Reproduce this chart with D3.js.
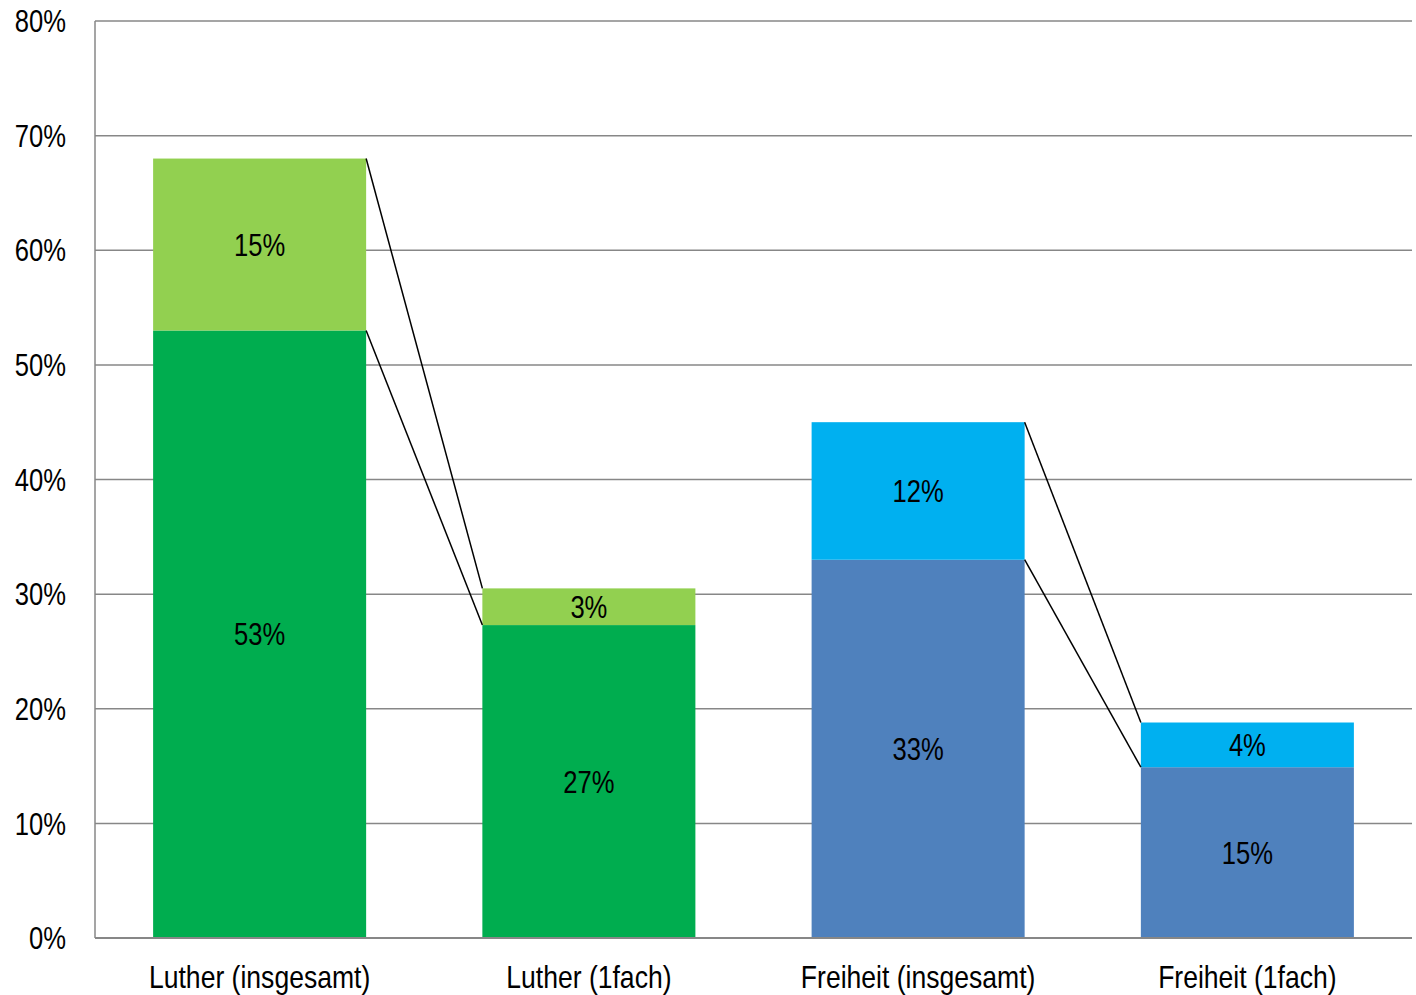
<!DOCTYPE html>
<html>
<head>
<meta charset="utf-8">
<script src="https://cdn.jsdelivr.net/npm/d3@7"></script>
<style>
  html, body { margin: 0; padding: 0; background: #fff; }
  svg text { font-family: "Liberation Sans", Arial, sans-serif; fill: #000; }
</style>
</head>
<body>
<svg id="chart" width="1416" height="995"></svg>
<script>
// categories and stacked values (percent)
var categories = ["Luther (insgesamt)", "Luther (1fach)", "Freiheit (insgesamt)", "Freiheit (1fach)"];
var baseValues = [53, 27.3, 33, 14.9];
var topValues = [15, 3.2, 12, 3.9];
var baseLabels = ["53%", "27%", "33%", "15%"];
var topLabels = ["15%", "3%", "12%", "4%"];
var baseColors = ["#00AD4F", "#00AD4F", "#4F81BD", "#4F81BD"];
var topColors = ["#92D050", "#92D050", "#00B0F0", "#00B0F0"];
var yTicks = [0, 10, 20, 30, 40, 50, 60, 70, 80];
// pairs of bars joined by connector lines
var connectors = [[0, 1], [2, 3]];

var svg = d3.select("#chart");
var mLeft = 95, mRight = 1412, mTop = 21, mBottom = 938;
var fontSize = 32;

var x = d3.scaleBand()
  .domain(categories)
  .range([mLeft, mRight])
  .paddingInner(0.353)
  .paddingOuter(0.1765);

var y = d3.scaleLinear().domain([0, 80]).range([mBottom, mTop]);

// condensed text (narrow font look)
function label(g, tx, ty, str, anchor, dy, narrow) {
  return g.append("text")
    .attr("transform", "translate(" + tx + "," + ty + ") scale(" + (narrow || 0.8) + ",1)")
    .attr("dy", dy || 0)
    .attr("text-anchor", anchor)
    .attr("font-size", fontSize)
    .text(str);
}

// gridlines
svg.append("g").selectAll("line")
  .data(yTicks.filter(function(d) { return d > 0; }))
  .enter().append("line")
    .attr("x1", mLeft).attr("x2", mRight)
    .attr("y1", function(d) { return y(d); })
    .attr("y2", function(d) { return y(d); })
    .attr("stroke", "#878787")
    .attr("stroke-width", 1.5);

// y tick labels
var yg = svg.append("g");
yTicks.forEach(function(d) {
  label(yg, 66, y(d), d + "%", "end", "0.35em", 0.8);
});

var rows = categories.map(function(c, i) {
  return {cat: c, base: baseValues[i], top: topValues[i], i: i};
});

// base segments
svg.append("g").selectAll("rect")
  .data(rows)
  .enter().append("rect")
    .attr("x", function(d) { return x(d.cat); })
    .attr("width", x.bandwidth())
    .attr("y", function(d) { return y(d.base); })
    .attr("height", function(d) { return y(0) - y(d.base); })
    .attr("fill", function(d) { return baseColors[d.i]; });

// top segments
svg.append("g").selectAll("rect")
  .data(rows)
  .enter().append("rect")
    .attr("x", function(d) { return x(d.cat); })
    .attr("width", x.bandwidth())
    .attr("y", function(d) { return y(d.base + d.top); })
    .attr("height", function(d) { return y(d.base) - y(d.base + d.top); })
    .attr("fill", function(d) { return topColors[d.i]; });

// connector lines
var cg = svg.append("g");
connectors.forEach(function(p) {
  var a = rows[p[0]], b = rows[p[1]];
  var x1 = x(a.cat) + x.bandwidth(), x2 = x(b.cat);
  [[a.base + a.top, b.base + b.top], [a.base, b.base]].forEach(function(v) {
    cg.append("line")
      .attr("x1", x1).attr("y1", y(v[0]))
      .attr("x2", x2).attr("y2", y(v[1]))
      .attr("stroke", "#000")
      .attr("stroke-width", 1.5);
  });
});

// axes
svg.append("line")
  .attr("x1", mLeft).attr("x2", mLeft)
  .attr("y1", y(80)).attr("y2", y(0))
  .attr("stroke", "#878787").attr("stroke-width", 1.5);
svg.append("line")
  .attr("x1", mLeft).attr("x2", mRight)
  .attr("y1", y(0)).attr("y2", y(0))
  .attr("stroke", "#878787").attr("stroke-width", 2);

// value labels
var lg = svg.append("g");
rows.forEach(function(d) {
  var cx = x(d.cat) + x.bandwidth() / 2;
  label(lg, cx, y(d.base / 2), baseLabels[d.i], "middle", "0.35em", 0.8);
  label(lg, cx, y(d.base + d.top / 2), topLabels[d.i], "middle", "0.35em", 0.8);
});

// category labels
var xg = svg.append("g");
categories.forEach(function(c) {
  label(xg, x(c) + x.bandwidth() / 2, 988, c, "middle", 0, 0.83);
});
</script>
</body>
</html>
